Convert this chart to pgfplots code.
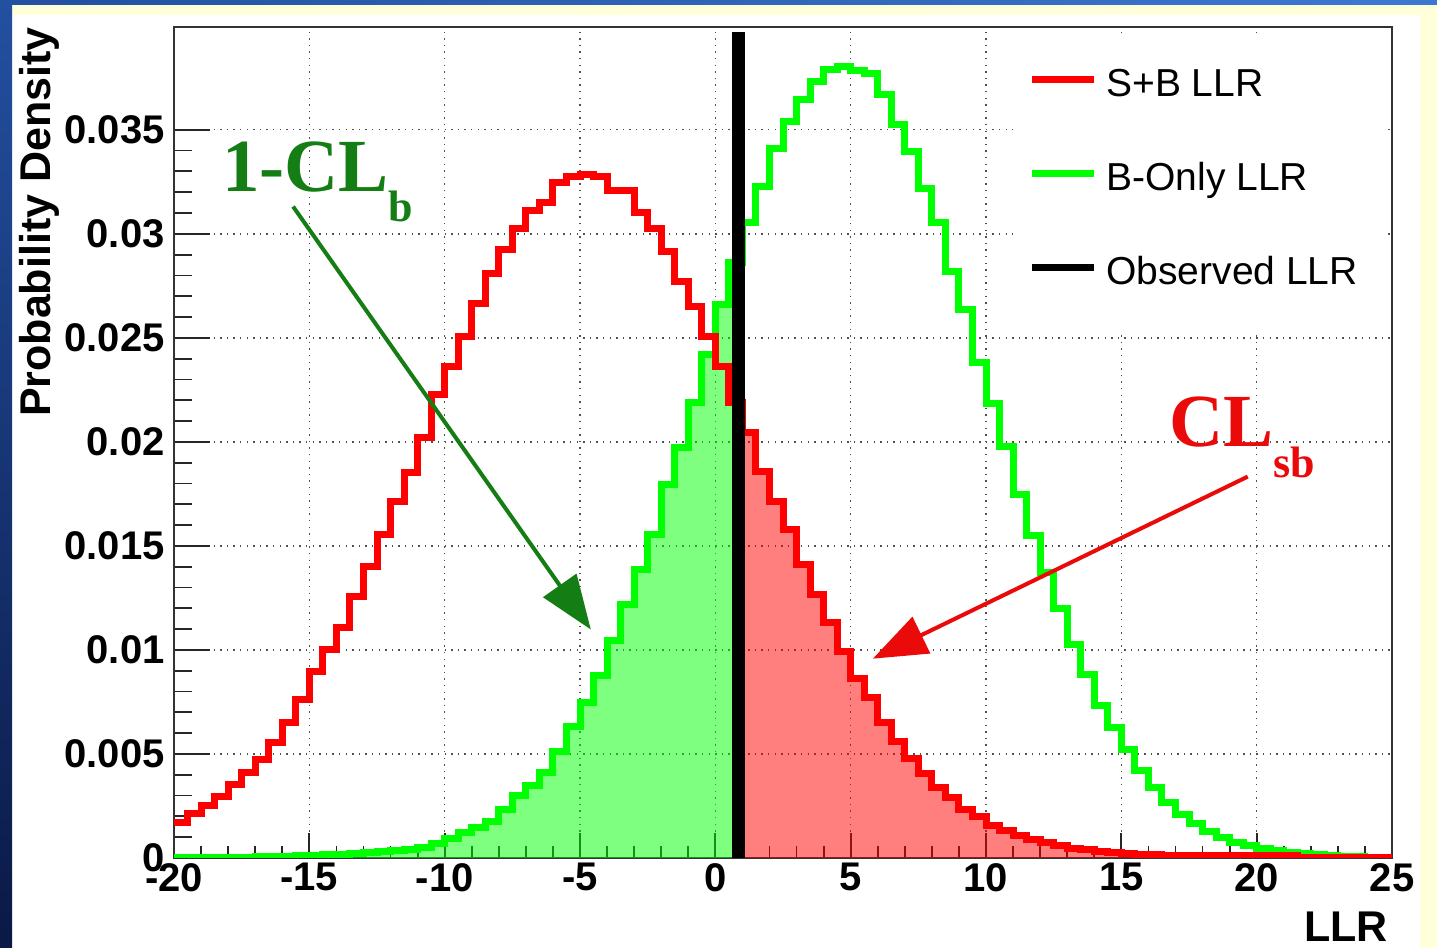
\documentclass[border=0pt]{standalone}
\usepackage{fontspec}
\setmainfont{Liberation Sans}
\newfontfamily\timesfont{Liberation Serif}
\usepackage{pgfplots}
\pgfplotsset{compat=1.18}
\usepackage{pgfplotstable}
\usetikzlibrary{arrows.meta}

\definecolor{rootred}{RGB}{255,0,0}
\definecolor{rootgreen}{RGB}{0,255,0}
\definecolor{darkgreen}{RGB}{20,125,20}
\definecolor{annred}{RGB}{235,10,10}
\definecolor{bgyellow}{RGB}{255,255,218}
\definecolor{gridgray}{RGB}{80,80,80}
\definecolor{bluetop}{RGB}{35,80,160}
\definecolor{bluebot}{RGB}{10,25,70}
\definecolor{bluelight}{RGB}{60,120,210}

\pgfplotstableread{
x sb b
-20.0 0.00171 0.00001
-19.5 0.00216 0.00001
-19.0 0.00250 0.00002
-18.5 0.00296 0.00002
-18.0 0.00352 0.00003
-17.5 0.00409 0.00004
-17.0 0.00473 0.00005
-16.5 0.00553 0.00006
-16.0 0.00649 0.00008
-15.5 0.00761 0.00010
-15.0 0.00897 0.00012
-14.5 0.01001 0.00015
-14.0 0.01106 0.00018
-13.5 0.01258 0.00022
-13.0 0.01402 0.00026
-12.5 0.01554 0.00031
-12.0 0.01715 0.00036
-11.5 0.01851 0.00043
-11.0 0.02019 0.00052
-10.5 0.02228 0.00069
-10.0 0.02364 0.00092
-9.5 0.02508 0.00121
-9.0 0.02665 0.00145
-8.5 0.02809 0.00177
-8.0 0.02925 0.00234
-7.5 0.03024 0.00298
-7.0 0.03112 0.00347
-6.5 0.03152 0.00411
-6.0 0.03245 0.00510
-5.5 0.03277 0.00630
-5.0 0.03285 0.00748
-4.5 0.03277 0.00876
-4.0 0.03210 0.01043
-3.5 0.03210 0.01219
-3.0 0.03104 0.01388
-2.5 0.03024 0.01556
-2.0 0.02917 0.01797
-1.5 0.02772 0.01972
-1.0 0.02652 0.02189
-0.5 0.02508 0.02420
0.0 0.02361 0.02660
0.5 0.02190 0.02860
1.0 0.02043 0.03052
1.5 0.01859 0.03228
2.0 0.01715 0.03412
2.5 0.01578 0.03540
3.0 0.01410 0.03644
3.5 0.01266 0.03732
4.0 0.01133 0.03788
4.5 0.00993 0.03804
5.0 0.00865 0.03783
5.5 0.00770 0.03772
6.0 0.00653 0.03668
6.5 0.00562 0.03524
7.0 0.00480 0.03396
7.5 0.00406 0.03220
8.0 0.00340 0.03052
8.5 0.00290 0.02820
9.0 0.00232 0.02636
9.5 0.00200 0.02382
10.0 0.00158 0.02186
10.5 0.00134 0.01980
11.0 0.00109 0.01749
11.5 0.00089 0.01551
12.0 0.00073 0.01370
12.5 0.00059 0.01197
13.0 0.00048 0.01024
13.5 0.00040 0.00884
14.0 0.00030 0.00735
14.5 0.00026 0.00628
15.0 0.00021 0.00521
15.5 0.00018 0.00422
16.0 0.00016 0.00340
16.5 0.00014 0.00265
17.0 0.00013 0.00208
17.5 0.00012 0.00167
18.0 0.00011 0.00125
18.5 0.00010 0.00100
19.0 0.00010 0.00076
19.5 0.00010 0.00059
20.0 0.00010 0.00046
20.5 0.00010 0.00035
21.0 0.00010 0.00026
21.5 0.00000 0.00020
22.0 0.00000 0.00015
22.5 0.00000 0.00011
23.0 0.00000 0.00008
23.5 0.00000 0.00006
24.0 0.00000 0.00004
24.5 0.00000 0.00003
25.0 0.00000 0.00003
}\llr

\begin{document}
\begin{tikzpicture}
\fill[bgyellow] (0pt,0pt) rectangle (718.5pt,474pt);
\fill[white] (6pt,0pt) rectangle (710pt,466.5pt);
\shade[top color=bluetop, bottom color=bluebot] (0pt,0pt) rectangle (6pt,474pt);
\shade[left color=bluetop, right color=bluelight] (0pt,471.5pt) rectangle (718.5pt,474pt);

\begin{axis}[
  at={(87pt,45pt)}, anchor=south west,
  scale only axis, width=609pt, height=415.5pt,
  xmin=-20, xmax=25, ymin=0, ymax=0.03994,
  scaled x ticks=false, scaled y ticks=false,
  axis line style={line width=1pt, black!80},
  tick align=inside, tick pos=left,
  xtick={-20,-15,-10,-5,0,5,10,15,20,25},
  xticklabels={-20,-15,-10,-5,0,5,10,15,20,25},
  ytick={0,0.005,0.01,0.015,0.02,0.025,0.03,0.035},
  yticklabels={0,0.005,0.01,0.015,0.02,0.025,0.03,0.035},
  minor x tick num=4, minor y tick num=4,
  major tick length=18pt, minor tick length=9pt,
  tick style={line width=0.9pt, black!85},
  xtick style={/pgfplots/major tick length=12.5pt,/pgfplots/minor tick length=6pt},
  grid=major,
  major grid style={line width=0.7pt, gridgray, dash pattern=on 0.7pt off 2.6pt},
  ticklabel style={font=\bfseries\fontsize{20}{24}\selectfont},
  xticklabel style={inner sep=0pt, yshift=-2.5pt},
  yticklabel style={inner sep=0pt, xshift=-4.5pt},
  legend style={at={(0.7011,0.950)}, anchor=north west, draw=none, fill=none,
    inner sep=0pt, row sep=29pt, column sep=4.5pt,
    font=\fontsize{19.5}{23}\selectfont,
    nodes={inner sep=0pt, text height=14pt, text depth=4pt}},
  legend cell align=left,
  legend image code/.code={\path[draw=none, fill=none] (0pt,-5.25pt) rectangle (31pt,5.25pt); \draw[#1, line width=3.5pt] (0pt,3.5pt) -- (31pt,3.5pt);},
]
\addlegendimage{rootred}\addlegendentry{S+B LLR}
\addlegendimage{rootgreen}\addlegendentry{B-Only LLR}
\addlegendimage{black}\addlegendentry{Observed LLR}

\fill[white] (rel axis cs:0.6888,0.6354) rectangle (rel axis cs:0.9943,0.9904);

\addplot[const plot, fill=rootgreen, fill opacity=0.5, draw=none, forget plot, restrict x to domain=-20:1] table[x=x,y=b]{\llr} \closedcycle;
\addplot[const plot, fill=rootred, fill opacity=0.5, draw=none, forget plot, restrict x to domain=1:25] table[x=x,y=sb]{\llr} \closedcycle;

\addplot[const plot, rootgreen, line width=3.5pt, line join=miter, forget plot] table[x=x,y=b]{\llr};
\addplot[const plot, rootred, line width=3.5pt, line join=miter, forget plot] table[x=x,y=sb]{\llr};
\addplot[black, line width=6.5pt, forget plot] coordinates {(0.85,0) (0.85,0.0397)};

\draw[darkgreen, line width=2pt, -{Triangle[length=27pt,width=20pt]}] (axis cs:-15.60,0.03131) -- (axis cs:-4.60,0.01098);
\draw[annred, line width=2pt, -{Triangle[length=27pt,width=20pt]}] (axis cs:19.67,0.01833) -- (axis cs:5.82,0.00958);

\node[anchor=base west, text=darkgreen, inner sep=0pt, font=\timesfont\bfseries\fontsize{37.5}{40}\selectfont] at (axis cs:-18.23,0.03204) {1-CL\raisebox{-15pt}{\fontsize{22}{24}\selectfont b}};
\node[anchor=base west, text=annred, inner sep=0pt, font=\timesfont\bfseries\fontsize{37.5}{40}\selectfont] at (axis cs:16.76,0.01978) {CL\raisebox{-15.5pt}{\fontsize{22}{24}\selectfont sb}};
\end{axis}

\node[rotate=90, anchor=base east, inner sep=0pt, font=\bfseries\fontsize{21.5}{24}\selectfont] at (25pt,460.5pt) {Probability Density};
\node[anchor=base east, inner sep=0pt, font=\bfseries\fontsize{21.5}{24}\selectfont] at (694pt,3pt) {LLR};
\end{tikzpicture}
\end{document}
